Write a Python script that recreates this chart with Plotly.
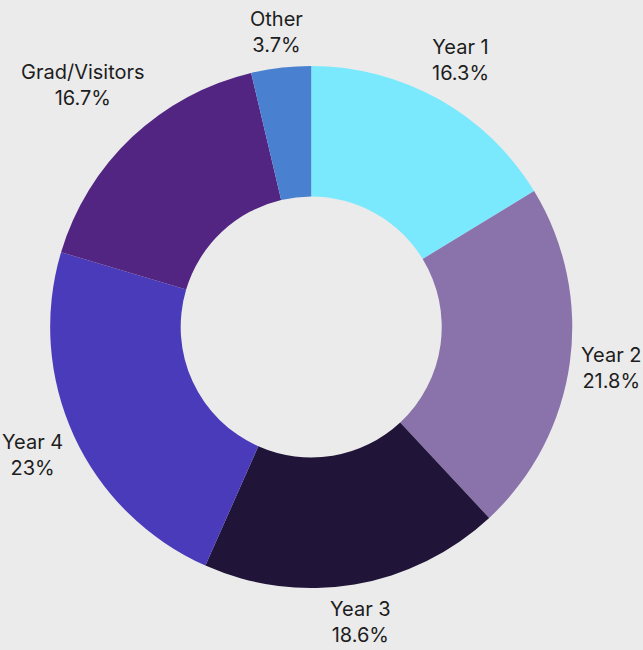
import math
import plotly.graph_objects as go

labels = ["Year 1", "Year 2", "Year 3", "Year 4", "Grad/Visitors", "Other"]
values = [16.3, 21.8, 18.6, 23, 16.7, 3.7]
colors = ["#7ae9fd", "#8a73ab", "#201538", "#4a3bba", "#532582", "#4a80d0"]

W, H = 643, 650
dom_x = [0.078, 0.890]
dom_y = [0.095, 0.899]
font_size = 20

fig = go.Figure(go.Pie(
    labels=labels,
    values=values,
    marker=dict(colors=colors, line=dict(width=0)),
    hole=0.5,
    sort=False,
    direction="clockwise",
    rotation=0,
    textinfo="none",
    showlegend=False,
    hoverinfo="label+value",
    domain=dict(x=dom_x, y=dom_y),
))

# label placement derived from the slice mid-angles
cx = W * (dom_x[0] + dom_x[1]) / 2
cy = H * (1 - (dom_y[0] + dom_y[1]) / 2)
R = min((dom_x[1] - dom_x[0]) * W, (dom_y[1] - dom_y[0]) * H) / 2
total = sum(values)
cum = 0.0
annotations = []
for lab, v in zip(labels, values):
    theta = 2 * math.pi * (cum + v / 2) / total
    cum += v
    val_txt = f"{v:g}%"
    w = 10.3 * max(len(lab), len(val_txt))
    h = 52
    s, c = math.sin(theta), math.cos(theta)
    r = R + 7 + (w / 2) * abs(s) + (h / 2) * abs(c)
    px = cx + r * s
    py = cy - r * c
    annotations.append(dict(
        x=px / W, y=1 - py / H, xref="paper", yref="paper",
        text=f"{lab}<br>{val_txt}", showarrow=False,
        xanchor="center", yanchor="middle", align="center",
        font=dict(family="Inter", size=font_size, color="#1d1d1d"),
    ))

fig.update_layout(
    width=W, height=H,
    margin=dict(l=0, r=0, t=0, b=0),
    paper_bgcolor="#ebebeb",
    plot_bgcolor="#ebebeb",
    annotations=annotations,
)
fig.write_html("out.html")
